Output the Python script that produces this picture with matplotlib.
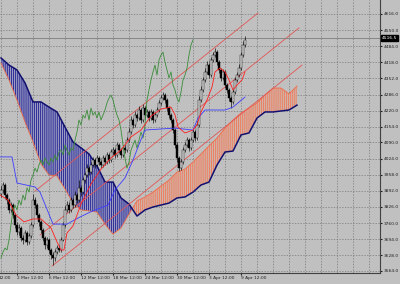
import numpy as np
import matplotlib
matplotlib.use("Agg")
import matplotlib.pyplot as plt
import matplotlib.transforms as mtransforms

# candles, one per bar (bar spacing = 2 px on the chart)
opens = [3880, 3895, 3916, 3875, 3854, 3814, 3834, 3793, 3752, 3723,
         3740, 3699, 3691, 3719, 3683, 3707, 3752, 3854, 3834, 3793,
         3764, 3732, 3699, 3670, 3691, 3650, 3629, 3617, 3642, 3658,
         3650, 3691, 3752, 3814, 3834, 3814, 3854, 3834, 3875, 3854,
         3904, 3887, 3936, 3957, 3985, 3969, 3998, 4018, 3998, 4026,
         4010, 3998, 4026, 4010, 4039, 4018, 4051, 4059, 4039, 4080,
         4059, 4039, 4067, 4059, 4100, 4133, 4182, 4162, 4202, 4190,
         4223, 4182, 4231, 4202, 4215, 4190, 4215, 4182, 4202, 4223,
         4252, 4272, 4284, 4264, 4231, 4202, 4182, 4141, 4080, 4026,
         3985, 4010, 4059, 4080, 4100, 4067, 4100, 4133, 4108, 4162,
         4264, 4305, 4346, 4379, 4407, 4366, 4428, 4448, 4460, 4419,
         4387, 4354, 4379, 4325, 4305, 4272, 4256, 4297, 4346, 4366,
         4395, 4448, 4489]
closes = [3895, 3916, 3875, 3854, 3814, 3834, 3793, 3752, 3723, 3740,
          3699, 3691, 3719, 3683, 3707, 3752, 3854, 3834, 3793, 3764,
          3732, 3699, 3670, 3691, 3650, 3629, 3617, 3642, 3658, 3650,
          3691, 3752, 3814, 3834, 3814, 3854, 3834, 3875, 3854, 3904,
          3887, 3936, 3957, 3985, 3969, 3998, 4018, 3998, 4026, 4010,
          3998, 4026, 4010, 4039, 4018, 4051, 4059, 4039, 4080, 4059,
          4039, 4067, 4059, 4100, 4133, 4182, 4162, 4202, 4190, 4223,
          4182, 4231, 4202, 4215, 4190, 4215, 4182, 4202, 4223, 4252,
          4272, 4284, 4264, 4231, 4202, 4182, 4141, 4080, 4026, 3985,
          4010, 4059, 4080, 4100, 4067, 4100, 4133, 4108, 4162, 4264,
          4305, 4346, 4379, 4407, 4366, 4428, 4448, 4460, 4419, 4387,
          4354, 4379, 4325, 4305, 4272, 4256, 4297, 4346, 4366, 4395,
          4448, 4489, 4510]
highs = [3910, 3930, 3925, 3884, 3862, 3848, 3842, 3800, 3765, 3755,
         3748, 3712, 3730, 3728, 3720, 3765, 3880, 3868, 3842, 3800,
         3772, 3740, 3708, 3702, 3698, 3660, 3640, 3655, 3670, 3672,
         3702, 3765, 3830, 3850, 3845, 3866, 3862, 3890, 3885, 3935,
         3918, 3950, 3970, 4000, 3995, 4012, 4032, 4026, 4040, 4035,
         4020, 4038, 4034, 4052, 4046, 4064, 4072, 4066, 4094, 4088,
         4066, 4080, 4078, 4114, 4148, 4198, 4192, 4218, 4212, 4238,
         4230, 4246, 4238, 4228, 4222, 4228, 4224, 4214, 4236, 4266,
         4286, 4298, 4292, 4272, 4240, 4210, 4190, 4150, 4090, 4034,
         4024, 4072, 4094, 4114, 4108, 4112, 4146, 4142, 4176, 4280,
         4320, 4360, 4394, 4422, 4415, 4442, 4462, 4476, 4468, 4426,
         4395, 4392, 4386, 4334, 4312, 4282, 4310, 4360, 4380, 4410,
         4462, 4504, 4524]
lows = [3868, 3885, 3862, 3840, 3800, 3805, 3780, 3740, 3710, 3712,
        3688, 3675, 3682, 3670, 3676, 3700, 3745, 3822, 3782, 3750,
        3720, 3688, 3655, 3660, 3638, 3615, 3590, 3605, 3632, 3640,
        3642, 3685, 3745, 3805, 3800, 3806, 3822, 3826, 3842, 3846,
        3872, 3880, 3925, 3948, 3955, 3960, 3988, 3985, 3990, 3998,
        3985, 3990, 3998, 4002, 4006, 4010, 4040, 4028, 4030, 4046,
        4026, 4030, 4046, 4050, 4092, 4125, 4150, 4154, 4178, 4182,
        4170, 4174, 4190, 4194, 4178, 4182, 4170, 4174, 4194, 4214,
        4244, 4262, 4252, 4220, 4190, 4170, 4128, 4066, 4012, 3972,
        3978, 4002, 4050, 4070, 4055, 4060, 4092, 4096, 4100, 4155,
        4255, 4296, 4338, 4370, 4355, 4358, 4418, 4440, 4408, 4375,
        4342, 4346, 4312, 4292, 4258, 4230, 4248, 4290, 4338, 4358,
        4388, 4440, 4480]

# ichimoku lines (bar, price)
tenkan_bars = [-0.5, 3.5, 7.5, 11.5, 16, 20, 25, 28, 30, 31.5, 33, 36, 40, 45, 50, 55, 60,
               65, 70, 75, 80, 85, 87, 88.5, 92, 96, 98, 100, 103, 105.5, 107, 109.5,
               112, 114, 116, 118, 120.5, 122]
tenkan_vals = [3875, 3855, 3793, 3765, 3777, 3777, 3740, 3683, 3650, 3650, 3720, 3748, 3838,
               3920, 3981, 4027, 4059, 4113, 4141, 4198, 4227, 4235, 4203, 4153, 4129, 4141,
               4162, 4215, 4264, 4317, 4379, 4395, 4379, 4346, 4305, 4325, 4346, 4379]
kijun_bars = [-0.5, 5.5, 8, 17, 19.5, 26, 33, 39.5, 44.5, 53.5, 57, 62, 66, 69.5, 72, 87,
              96, 98.5, 102, 112, 116, 122]
kijun_vals = [4031, 4031, 3924, 3908, 3887, 3756, 3756, 3785, 3805, 3834, 3896, 3945, 4018,
              4092, 4141, 4149, 4141, 4190, 4223, 4223, 4235, 4276]
chikou_shift = 26

span_bars = list(range(0, 149, 4))
span_a = [4415, 4346, 4264, 4174, 4092, 4002, 3957, 3953, 3900, 3842, 3814, 3810, 3805,
          3756, 3715, 3740, 3797, 3851, 3867, 3887, 3912, 3936, 3969, 3981, 4010, 4043,
          4076, 4108, 4149, 4182, 4211, 4231, 4252, 4284, 4313, 4313, 4289, 4321]
span_b = [4436, 4407, 4387, 4334, 4256, 4256, 4235, 4215, 4153, 4092, 4068, 4043, 3994,
          3928, 3928, 3863, 3838, 3789, 3814, 3826, 3834, 3842, 3863, 3867, 3887, 3916,
          3928, 3998, 4051, 4055, 4121, 4129, 4190, 4215, 4215, 4219, 4223, 4243]

# channel lines: (bar0, price0, bar1, price1)
channels = [(17, 3891, 128.5, 4620),
            (19.5, 3711, 149, 4559),
            (25.5, 3584, 150.5, 4407)]

bid = 4516.5
ytick_vals = [4616, 4550, 4484, 4418, 4352, 4286, 4220, 4154, 4090, 4024,
              3958, 3892, 3826, 3760, 3694, 3628, 3564]
date_bars = [8, 24, 40, 56, 72, 88, 104, 120]
date_labels = ["2 Mar 12:00", "6 Mar 12:00", "12 Mar 12:00", "18 Mar 12:00",
               "24 Mar 12:00", "30 Mar 12:00", "3 Apr 12:00", "9 Apr 12:00"]
cut_label = "12:00"   # tail of the label left of the chart

bg = "#C0C0C0"
plt.rcParams["hatch.linewidth"] = 0.6

fig = plt.figure(figsize=(4.0, 2.84), dpi=100)
fig.patch.set_facecolor(bg)
ax = fig.add_axes([0, 11 / 284, 380 / 400, 273 / 284])
ax.set_facecolor(bg)
ax.set_xlim(-0.5, 189.5)
ax.set_ylim(3555.8, 4673.3)

# grid
ax.set_yticks(ytick_vals)
ax.set_yticklabels([f"{v:.1f}" for v in ytick_vals])
ax.set_xticks(date_bars)
ax.set_xticklabels(date_labels)
ax.set_xticks(np.arange(0, 190, 8), minor=True)
ax.grid(True, which="both", color="#787878", lw=0.5, ls=(0, (2, 2)))
ax.set_axisbelow(True)

# cloud
sb = np.array(span_bars)
sa = np.array(span_a)
sbb = np.array(span_b)
ax.fill_between(sb, sa, sbb, where=sbb >= sa, interpolate=True, facecolor="#9a9ac2",
                edgecolor="#1c1c90", hatch="||||||||", linewidth=0, zorder=1)
ax.fill_between(sb, sa, sbb, where=sa >= sbb, interpolate=True, facecolor="#d2b2a6",
                edgecolor="#f07a5a", hatch="||||||||", linewidth=0, zorder=1)
ax.plot(sb, sa, color="#f06a48", lw=0.6, zorder=2)
ax.plot(sb, sbb, color="#101070", lw=1.1, zorder=2)

# channel lines
for b0, p0, b1, p1 in channels:
    ax.plot([b0, b1], [p0, p1], color="#e25555", lw=0.6, zorder=2)

# bid line
ax.axhline(bid, color="#7c7c7c", lw=0.6, zorder=2)

# candles
cb = np.arange(len(closes))
o = np.array(opens)
c = np.array(closes)
ax.vlines(cb, lows, highs, color="black", lw=0.45, zorder=3)
up = c >= o
ax.bar(cb, np.abs(c - o), bottom=np.minimum(o, c), width=0.75,
       color=np.where(up, "#d8d8d8", "black"), edgecolor="black", lw=0.3, zorder=3)

# lines
ax.plot(cb[chikou_shift:] - chikou_shift, c[chikou_shift:], color="#3a8c3a", lw=0.6, zorder=4)
ax.plot(kijun_bars, kijun_vals, color="#3c3cff", lw=0.6, zorder=4)
ax.plot(tenkan_bars, tenkan_vals, color="#ff1e1e", lw=0.6, zorder=4)

# axes look
for s in ["top", "left"]:
    ax.spines[s].set_visible(False)
for s in ["right", "bottom"]:
    ax.spines[s].set_color("#404040")
    ax.spines[s].set_linewidth(0.8)
ax.yaxis.tick_right()
ax.tick_params(axis="y", which="major", direction="out", length=1.5, pad=1,
               labelsize=3.2, colors="#202020")
ax.tick_params(axis="x", which="major", direction="out", length=1.5, pad=0.8,
               labelsize=3.2, colors="#202020")
ax.tick_params(axis="x", which="minor", length=0)
for lbl in ax.get_xticklabels():
    lbl.set_horizontalalignment("left")

# tail of the previous date label at the left edge
trans = mtransforms.blended_transform_factory(ax.transData, ax.transAxes)
trans = mtransforms.offset_copy(trans, fig=fig, y=-2.3, units="points")
ax.text(5, 0, cut_label, transform=trans, fontsize=3.2, ha="right", va="top",
        color="#202020", clip_on=False)

# bid label on the price scale
btrans = mtransforms.blended_transform_factory(ax.transAxes, ax.transData)
ax.text(1.006, bid, f"{bid:.1f}", transform=btrans, fontsize=3.2, color="white",
        ha="left", va="center", clip_on=False,
        bbox=dict(facecolor="black", edgecolor="black", pad=0.6))

fig.savefig("out.png", dpi=100, facecolor=bg)
